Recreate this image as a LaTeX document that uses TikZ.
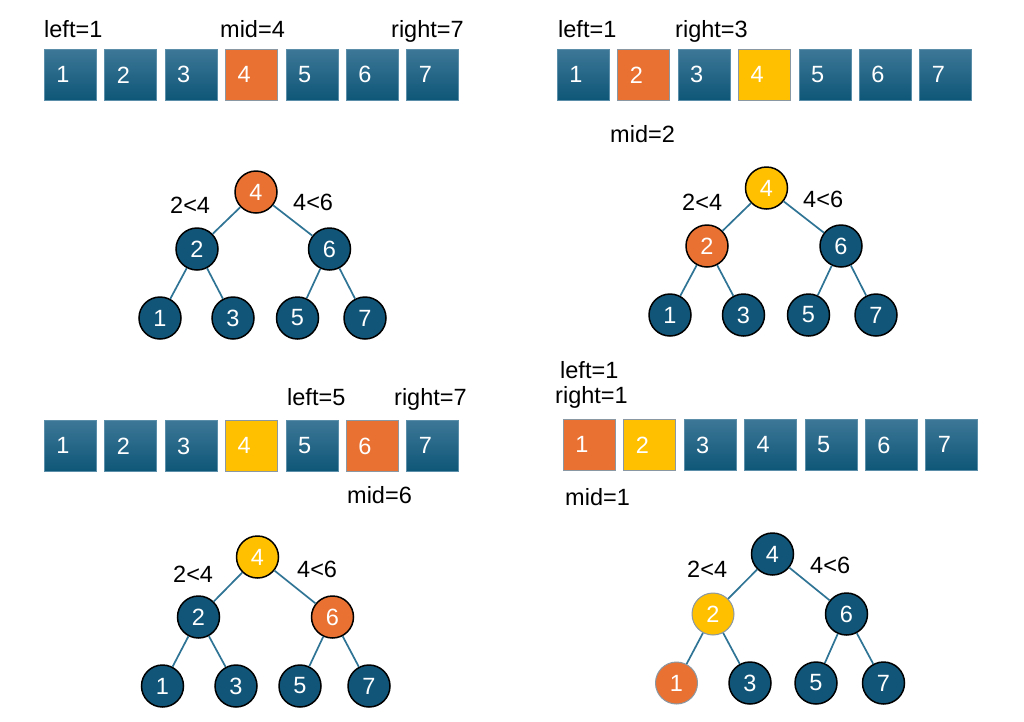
\documentclass[tikz,border=0pt]{standalone}
\usepackage{fontspec}
\setmainfont{Liberation Sans}
\newcommand\fs{\fontsize{23.5}{27}\selectfont}
\definecolor{tealtop}{HTML}{3D7797}
\definecolor{tealbot}{HTML}{0E5677}
\definecolor{boxedge}{HTML}{5B8EA8}
\definecolor{nodefill}{HTML}{115578}
\definecolor{orng}{HTML}{E97132}
\definecolor{yel}{HTML}{FFC000}
\definecolor{edgec}{HTML}{2F7494}
\definecolor{softedge}{HTML}{8A98A3}
\tikzset{
 cell/.style={minimum height=51pt, text width=28pt, inner xsep=12pt, inner ysep=0pt, align=left,
   draw=boxedge, line width=0.8pt, anchor=north west, text=white, font=\fs},
 tealcell/.style={cell, top color=tealtop, bottom color=tealbot},
 orcell/.style={cell, fill=orng, draw=softedge},
 yecell/.style={cell, fill=yel, draw=softedge},
 tn/.style={circle, minimum size=42pt, inner sep=0pt, draw=black, line width=1.5pt, fill=nodefill, text=white, font=\fs},
 ortn/.style={tn, fill=orng},
 yetn/.style={tn, fill=yel},
 lab/.style={anchor=base west, inner sep=0pt, font=\fs},
 tedge/.style={draw=edgec, line width=1.7pt}
}
\newcommand\cellrow[4]{%
  \foreach \s [count=\i] in {#4} {
    \node[\s] (#1\i) at ({#2+60.4*(\i-1)},#3) {\i};
  }%
}
\begin{document}
\begin{tikzpicture}[x=1pt,y=-1pt]
\useasboundingbox[fill=white] (0,0) rectangle (1024,721);

% ---------- Panel 1 ----------
\cellrow{a}{44}{49}{tealcell,tealcell,tealcell,orcell,tealcell,tealcell,tealcell}
\node[lab] (a-l) at (44,37) {left=1};
\node[lab] (a-m) at (220,37) {mid=4};
\node[lab] (a-r) at (391,37) {right=7};
\node[ortn] (p4) at (256,192) {4};
\node[tn] (p2) at (197,249) {2};
\node[tn] (p6) at (329.5,249) {6};
\node[tn] (p1) at (160,318) {1};
\node[tn] (p3) at (233,318) {3};
\node[tn] (p5) at (297.5,318) {5};
\node[tn] (p7) at (365,318) {7};
\draw[tedge] (p4) -- (p2); \draw[tedge] (p4) -- (p6);
\draw[tedge] (p2) -- (p1); \draw[tedge] (p2) -- (p3);
\draw[tedge] (p6) -- (p5); \draw[tedge] (p6) -- (p7);
\node[lab] (pl) at (170,213) {2<4};
\node[lab] (pr) at (293,210) {4<6};

% ---------- Panel 2 ----------
\cellrow{b}{557}{49}{tealcell,orcell,tealcell,yecell,tealcell,tealcell,tealcell}
\node[lab] (b-l) at (558,37) {left=1};
\node[lab] (b-r) at (675,37) {right=3};
\node[lab] (b-m) at (610,142) {mid=2};
\node[yetn] (q4) at (766.5,188) {4};
\node[ortn] (q2) at (707,246) {2};
\node[tn] (q6) at (841,246) {6};
\node[tn] (q1) at (670,315) {1};
\node[tn] (q3) at (743.5,315) {3};
\node[tn] (q5) at (808.5,315) {5};
\node[tn] (q7) at (876,315) {7};
\draw[tedge] (q4) -- (q2); \draw[tedge] (q4) -- (q6);
\draw[tedge] (q2) -- (q1); \draw[tedge] (q2) -- (q3);
\draw[tedge] (q6) -- (q5); \draw[tedge] (q6) -- (q7);
\node[lab] (ql) at (682,210) {2<4};
\node[lab] (qr) at (803,207) {4<6};

% ---------- Panel 3 ----------
\cellrow{c}{44}{420}{tealcell,tealcell,tealcell,yecell,tealcell,orcell,tealcell}
\node[lab] (c-l) at (287,405) {left=5};
\node[lab] (c-r) at (394,405) {right=7};
\node[lab] (c-m) at (347,503) {mid=6};
\node[yetn] (s4) at (257.5,557) {4};
\node[tn] (s2) at (198.5,617) {2};
\node[ortn] (s6) at (332.5,617) {6};
\node[tn] (s1) at (162.5,686) {1};
\node[tn] (s3) at (236,686) {3};
\node[tn] (s5) at (300,686) {5};
\node[tn] (s7) at (369,686) {7};
\draw[tedge] (s4) -- (s2); \draw[tedge] (s4) -- (s6);
\draw[tedge] (s2) -- (s1); \draw[tedge] (s2) -- (s3);
\draw[tedge] (s6) -- (s5); \draw[tedge] (s6) -- (s7);
\node[lab] (sl) at (173,582) {2<4};
\node[lab] (sr) at (297,577) {4<6};

% ---------- Panel 4 ----------
\cellrow{d}{563}{419}{orcell,yecell,tealcell,tealcell,tealcell,tealcell,tealcell}
\node[lab] (d-l) at (560,378) {left=1};
\node[lab] (d-r) at (555,403) {right=1};
\node[lab] (d-m) at (565,505) {mid=1};
\node[tn] (t4) at (772.5,554) {4};
\node[yetn, draw=softedge, line width=1pt] (t2) at (713,614) {2};
\node[tn] (t6) at (846.5,614) {6};
\node[ortn, draw=softedge, line width=1pt] (t1) at (676.5,683) {1};
\node[tn] (t3) at (750,683) {3};
\node[tn] (t5) at (816,683) {5};
\node[tn] (t7) at (883.5,683) {7};
\draw[tedge] (t4) -- (t2); \draw[tedge] (t4) -- (t6);
\draw[tedge] (t2) -- (t1); \draw[tedge] (t2) -- (t3);
\draw[tedge] (t6) -- (t5); \draw[tedge] (t6) -- (t7);
\node[lab] (tl) at (687,577) {2<4};
\node[lab] (tr) at (810,573) {4<6};
\end{tikzpicture}
\end{document}
